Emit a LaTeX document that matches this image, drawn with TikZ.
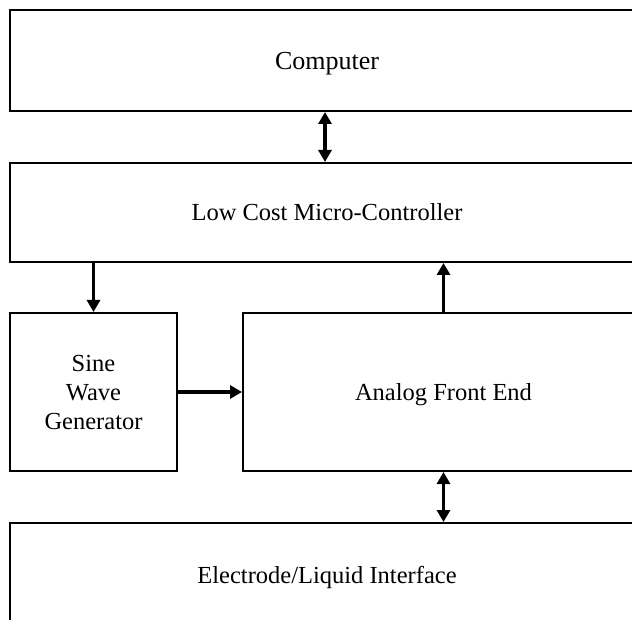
\documentclass[tikz,border=0pt]{standalone}
\usepackage{fontspec}
\setmainfont{Liberation Serif}
\usetikzlibrary{arrows.meta}
\tikzset{
  blk/.style={draw=black, line width=2pt, fill=white, inner sep=0pt, align=center,
    text depth=0pt, font=\fontsize{24.5}{29}\selectfont},
  arr/.style={line width=3.2pt, -{Triangle[length=12pt,width=13pt]}},
  darr/.style={line width=3.2pt, {Triangle[length=12pt,width=13pt]}-{Triangle[length=12pt,width=13pt]}},
}
\begin{document}
\begin{tikzpicture}[x=1pt,y=-1pt]
\useasboundingbox (0,0) rectangle (632,620);
\clip (0,0) rectangle (632,620);
\node[blk, minimum width=634pt, minimum height=101pt, font=\fontsize{26}{30}\selectfont] (comp) at (327,60.5) {Computer};
\node[blk, minimum width=634pt, minimum height=99pt] (micro) at (327,212.5) {Low Cost Micro-Controller};
\node[blk, minimum width=167pt, minimum height=158pt] (sine) at (93.5,392) {Sine\\Wave\\Generator};
\node[blk, minimum width=401pt, minimum height=158pt] (afe) at (443.5,392) {Analog Front End};
\node[blk, minimum width=634pt, minimum height=104pt] (elec) at (327,575) {Electrode/Liquid Interface};
\coordinate (ax) at (325,0);
\draw[darr] (comp.south -| ax) -- (micro.north -| ax);
\draw[arr] (micro.south -| sine.north) -- (sine.north);
\draw[arr] (afe.north) -- (afe.north |- micro.south);
\draw[arr] (sine.east) -- (afe.west);
\draw[darr] (afe.south) -- (afe.south |- elec.north);
\end{tikzpicture}
\end{document}
